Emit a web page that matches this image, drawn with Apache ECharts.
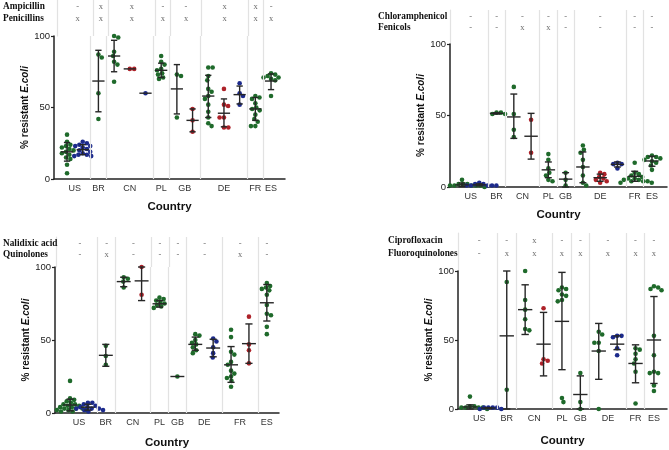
<!DOCTYPE html>
<html>
<head>
<meta charset="utf-8">
<script src="https://cdn.jsdelivr.net/npm/echarts@6/dist/echarts.min.js"></script>
<style>
html,body{margin:0;padding:0;background:#fff;}
#chart{width:669px;height:450px;}
</style>
</head>
<body>
<div id="chart"></div>
<script>
// ---------------- DATA ----------------
const countries = ['US','BR','CN','PL','GB','DE','FR','ES'];

// Panel 1: Ampicillin / Penicillins
const p1Rows = ['Ampicillin','Penicillins'];
const p1Row1 = ['-','x','x','-','-','x','x','-'];
const p1Row2 = ['x','x','x','x','x','x','x','x'];
const p1SlotCountry = ['US','US','BR','CN','CN','CN','PL','GB','GB','DE','DE','DE','FR','ES'];
const p1SlotSource  = ['S1','S2','S1','S1','S3','S2','S1','S1','S3','S1','S3','S2','S1','S1'];
const p1Values = [
  [31,26,24,23,22,21,20,19,18,17,15,14,10,4],
  [26,25,24,23,23,22,21,20,19,18,17,17,16,16],
  [87,85,60,42],
  [100,99,89,86,82,80,68],
  [77,77],
  [60],
  [86,82,80,77,76,74,73,71,70],
  [73,72,43],
  [49,41,33],
  [78,78,72,69,63,61,58,56,52,47,43,39,37],
  [63,52,51,43,43,36,36],
  [67,60,58,52],
  [58,57,56,53,50,49,48,45,42,40,37,37],
  [74,73,72,71,71,70,69,58]
];
const p1Mean = [19,20.5,68.5,86,77,60,76,63,41,58,46,59,49,68.5];
const p1Lo   = [12.5,17,47,75,77,60,71,45.5,33,43,36.5,52.5,41,62.5];
const p1Hi   = [25.5,24,90,97,77,60,81,80,49,72.5,56,65,57,73.5];

// Panel 2: Chloramphenicol / Fenicols
const p2Rows = ['Chloramphenicol','Fenicols'];
const p2Row1 = ['-','-','-','-','-','-','-','-'];
const p2Row2 = ['-','-','x','x','-','-','-','-'];
const p2SlotCountry = ['US','US','BR','CN','CN','PL','GB','DE','DE','DE','FR','ES'];
const p2SlotSource  = ['S1','S2','S1','S1','S3','S1','S1','S1','S3','S2','S1','S1'];
const p2Values = [
  [5,2,2,2,1,1,1,1,1,1,0,0],
  [3,2,2,1,1,1,1,1],
  [52,52,51,51],
  [70,51,40,35],
  [47,24],
  [23,19,13,10,8,5,4],
  [10,5,1],
  [29,26,24,19,14,8,3,1],
  [10,9,7,6,5,4,3],
  [17,16,16,13],
  [17,10,9,8,7,6,6,5,5,4,4,3,3,4],
  [22,21,21,20,19,18,17,15,12]
];
const p2Mean = [1.5,1.5,51.5,49,35.5,12,5.5,14,6.5,15.8,7.5,18.2];
const p2Lo   = [0.2,0.8,51,34,19.5,6.5,0,3,4,14,4,14.5];
const p2Hi   = [2.8,2.2,52,65,51.5,17.5,10,24.5,9,17.5,11,21.5];

// Panel 3: Nalidixic acid / Quinolones
const p3Rows = ['Nalidixic acid','Quinolones'];
const p3Row1 = ['-','-','-','-','-','-','-','-'];
const p3Row2 = ['-','x','-','-','-','-','x','-'];
const p3SlotCountry = ['US','US','BR','CN','CN','PL','GB','DE','DE','FR','FR','ES'];
const p3SlotSource  = ['S1','S2','S1','S1','S3','S1','S1','S1','S2','S1','S3','S1'];
const p3Values = [
  [22,10,9,8,7,6,6,5,5,4,4,3,3,2,2,1,1,2,3],
  [7,7,6,5,4,4,3,3,2,2,1,3],
  [46,39,33],
  [93,92,90,86],
  [100,81],
  [79,78,77,76,75,74,73,72],
  [25],
  [54,53,50,48,47,45,43,41],
  [51,49,45,41,38],
  [57,52,42,40,35,33,29,27,25,24,22,18],
  [66,47,43,34],
  [89,87,86,85,84,81,74,68,67,59,54]
];
const p3Mean = [5.5,4,39.5,90,90.5,74.8,25,47,44.5,33,47.5,75.5];
const p3Lo   = [1.5,2,32,86.5,77,72.5,25,43,38.5,21,34,63];
const p3Hi   = [9.5,6,47,93,100,77,25,52,50.5,45.5,61,88];

// Panel 4: Ciprofloxacin / Fluoroquinolones
const p4Rows = ['Ciprofloxacin','Fluoroquinolones'];
const p4Row1 = ['-','-','x','-','-','-','-','-'];
const p4Row2 = ['-','x','x','x','x','x','x','x'];
const p4SlotCountry = ['US','US','BR','CN','CN','PL','GB','DE','DE','FR','ES'];
const p4SlotSource  = ['S1','S2','S1','S1','S3','S1','S1','S1','S2','S1','S1'];
const p4Values = [
  [9,2,2,1,1,1,0,0,1,0],
  [1,1,1,0,0,1],
  [92,14],
  [100,79,72,65,58,57],
  [73,36,35,33],
  [88,87,86,83,82,79,78,8,5],
  [26,5,0],
  [56,54,48,48,42,0],
  [53,53,52,44,39],
  [44,43,40,36,33,27,4],
  [89,88,87,86,53,39,27,26,26,17,13]
];
const p4Mean = [1.5,0.7,53,72,47,63.5,10.5,42,47,33,50];
const p4Lo   = [0,0.3,0,54,24,28.5,0,21.5,43,19,18.5];
const p4Hi   = [3,1,100,90,70,99,24,62,53,46.5,81.5];

// ---------------- LAYOUT / STYLE ----------------
const SANS = 'Liberation Sans, Arial, sans-serif';
const SERIF = 'Liberation Serif, Times New Roman, serif';
const sourceColor = {S1:'#1f6a2b', S2:'#1c2a8c', S3:'#ad2229'};

const panels = [
  {rows:p1Rows, r1:p1Row1, r2:p1Row2, sc:p1SlotCountry, ss:p1SlotSource, vals:p1Values, mean:p1Mean, lo:p1Lo, hi:p1Hi,
   grid:{left:54, top:36, width:231, height:143}, headTop:0, xMin:0.17, xMax:14.89, hMin:0.417, hMax:3.417, rowMargin:54, nameGap:21, xNameGap:22},
  {rows:p2Rows, r1:p2Row1, r2:p2Row2, sc:p2SlotCountry, ss:p2SlotSource, vals:p2Values, mean:p2Mean, lo:p2Lo, hi:p2Hi,
   grid:{left:450, top:44, width:217, height:143}, headTop:10, xMin:0.305, xMax:12.87, hMin:0.364, hMax:3.455, rowMargin:72, nameGap:21, xNameGap:22},
  {rows:p3Rows, r1:p3Row1, r2:p3Row2, sc:p3SlotCountry, ss:p3SlotSource, vals:p3Values, mean:p3Mean, lo:p3Lo, hi:p3Hi,
   grid:{left:55, top:267, width:224, height:146}, headTop:237, xMin:0.16, xMax:12.68, hMin:0.364, hMax:3.09, rowMargin:53, nameGap:17, xNameGap:24},
  {rows:p4Rows, r1:p4Row1, r2:p4Row2, sc:p4SlotCountry, ss:p4SlotSource, vals:p4Values, mean:p4Mean, lo:p4Lo, hi:p4Hi,
   grid:{left:458, top:271, width:209, height:138}, headTop:233, xMin:0.35, xMax:11.71, hMin:0.385, hMax:3.308, rowMargin:70, nameGap:20, xNameGap:26}
];

// beeswarm layout: returns x offsets in px for values (y in px)
function swarm(values, pxPerUnit, d) {
  const order = values.map((v,i)=>i).sort((a,b)=>values[b]-values[a]);
  const placed = [];
  const out = new Array(values.length).fill(0);
  let side = 1;
  order.forEach(i => {
    const y = values[i]*pxPerUnit;
    const intervals = [];
    placed.forEach(p => {
      const dy = Math.abs(p.y - y);
      if (dy < d) {
        const w = Math.sqrt(d*d - dy*dy);
        intervals.push([p.x - w, p.x + w]);
      }
    });
    const cands = [0];
    intervals.forEach(iv => { cands.push(iv[0]); cands.push(iv[1]); });
    const ok = c => intervals.every(iv => c <= iv[0] + 1e-6 || c >= iv[1] - 1e-6);
    let best = null;
    cands.filter(ok).forEach(c => {
      if (best === null || Math.abs(c) < Math.abs(best) - 1e-6 ||
          (Math.abs(Math.abs(c) - Math.abs(best)) < 1e-6 && Math.sign(c) === side)) best = c;
    });
    if (best !== 0) side = -side;
    out[i] = best;
    placed.push({x:best, y:y});
  });
  return out;
}

const grids = [], xAxes = [], yAxes = [], series = [];
panels.forEach((P, k) => {
  const gi = grids.length;
  grids.push({left:P.grid.left, top:P.headTop, width:P.grid.width, height:P.grid.top - P.headTop});
  grids.push({left:P.grid.left, top:P.grid.top, width:P.grid.width, height:P.grid.height});
  const hx = xAxes.length;
  const slotPx = P.grid.width/(P.xMax - P.xMin);
  const unitPx = P.grid.height/100;

  const centers = countries.map(c => {
    const idx = P.sc.map((s,i)=> s===c ? i+1 : null).filter(v=>v!==null);
    return (idx[0] + idx[idx.length-1]) / 2;
  });
  const seps = [];
  for (let i = 1; i < P.sc.length; i++) if (P.sc[i] !== P.sc[i-1]) seps.push(i + 0.5);

  xAxes.push({type:'value', gridIndex:gi, min:P.xMin, max:P.xMax, show:false});
  xAxes.push({type:'value', gridIndex:gi+1, min:P.xMin, max:P.xMax,
    axisLine:{show:true, onZero:false, lineStyle:{color:'#222', width:1.5}},
    axisTick:{show:false}, splitLine:{show:false},
    axisLabel:{customValues:centers, formatter:v => { const j = centers.findIndex(c=>Math.abs(c-v)<1e-6); return j>=0 ? countries[j] : ''; },
      fontFamily:SANS, fontSize:9, color:'#333', margin:5},
    name:'Country', nameLocation:'middle', nameGap:P.xNameGap,
    nameTextStyle:{fontFamily:SANS, fontSize:11.5, fontWeight:'bold', color:'#111'}
  });
  const hy = yAxes.length;
  yAxes.push({type:'value', gridIndex:gi, min:P.hMin, max:P.hMax, inverse:true,
    axisLine:{show:true, lineStyle:{color:'#e2e2e2', width:1.2}}, axisTick:{show:false}, splitLine:{show:false},
    axisLabel:{customValues:[1,2], formatter:v => P.rows[Math.round(v)-1] || '', align:'left', margin:P.rowMargin,
      fontFamily:SERIF, fontWeight:'bold', fontSize:9.3, color:'#111'}
  });
  yAxes.push({type:'value', gridIndex:gi+1, min:0, max:100, interval:50,
    axisLine:{show:true, lineStyle:{color:'#222', width:1.5}},
    axisTick:{show:true, length:3, lineStyle:{color:'#222', width:1.2}},
    splitLine:{show:false},
    axisLabel:{fontFamily:SANS, fontSize:9.5, color:'#222', margin:4},
    name:'% resistant {i|E.coli}', nameLocation:'middle', nameGap:P.nameGap,
    nameTextStyle:{fontFamily:SANS, fontSize:10, fontWeight:'bold', color:'#111',
      rich:{i:{fontFamily:SANS, fontSize:10, fontWeight:'bold', fontStyle:'italic', color:'#111'}}}
  });

  series.push({type:'scatter', xAxisIndex:hx, yAxisIndex:hy, silent:true, z:1,
    symbolSize:1, itemStyle:{color:'rgba(0,0,0,0)'},
    data: countries.map((c,j)=>({value:[centers[j],1], m:P.r1[j]})).concat(countries.map((c,j)=>({value:[centers[j],2], m:P.r2[j]}))),
    label:{show:true, position:'inside', formatter:p=>p.data.m, fontFamily:SERIF, fontSize:8.5, color:'#444'},
    markLine:{silent:true, symbol:['none','none'], label:{show:false}, animation:false,
      lineStyle:{color:'#e2e2e2', width:1.2, type:'solid'}, data:seps.map(s=>({xAxis:s}))}
  });
  series.push({type:'line', xAxisIndex:hx+1, yAxisIndex:hy+1, data:[], silent:true, z:1,
    markLine:{silent:true, symbol:['none','none'], label:{show:false}, animation:false,
      lineStyle:{color:'#e2e2e2', width:1.2, type:'solid'}, data:seps.map(s=>({xAxis:s}))}
  });
  ['S1','S2','S3'].forEach(src => {
    const data = [];
    P.vals.forEach((vals, i) => {
      if (P.ss[i] !== src) return;
      const off = swarm(vals, unitPx, 4.4);
      vals.forEach((v, j) => data.push([i + 1 + off[j]/slotPx, v]));
    });
    if (data.length) series.push({type:'scatter', xAxisIndex:hx+1, yAxisIndex:hy+1, z:2, silent:true,
      symbolSize:4.6, itemStyle:{color:sourceColor[src], opacity:1}, data:data});
  });
  series.push({type:'custom', xAxisIndex:hx+1, yAxisIndex:hy+1, z:3, silent:true,
    data: P.mean.map((m,i)=>[i+1, m, P.lo[i], P.hi[i]]),
    renderItem:(params, api) => {
      const x = api.value(0);
      const pm = api.coord([x, api.value(1)]);
      const pl = api.coord([x, api.value(2)]);
      const ph = api.coord([x, api.value(3)]);
      const w = api.size([1, 0])[0];
      const st = {stroke:'#262626', lineWidth:1.4};
      const kids = [
        {type:'line', shape:{x1:pm[0]-0.39*w, y1:pm[1], x2:pm[0]+0.39*w, y2:pm[1]}, style:st}
      ];
      if (Math.abs(ph[1]-pl[1]) > 0.5) {
        kids.push({type:'line', shape:{x1:ph[0], y1:ph[1], x2:pl[0], y2:pl[1]}, style:st});
        kids.push({type:'line', shape:{x1:ph[0]-0.2*w, y1:ph[1], x2:ph[0]+0.2*w, y2:ph[1]}, style:st});
        kids.push({type:'line', shape:{x1:pl[0]-0.2*w, y1:pl[1], x2:pl[0]+0.2*w, y2:pl[1]}, style:st});
      }
      return {type:'group', children:kids};
    }
  });
});

const chart = echarts.init(document.getElementById('chart'), null, {renderer:'canvas'});
chart.setOption({animation:false, backgroundColor:'#fff', grid:grids, xAxis:xAxes, yAxis:yAxes, series:series});
</script>
</body>
</html>
